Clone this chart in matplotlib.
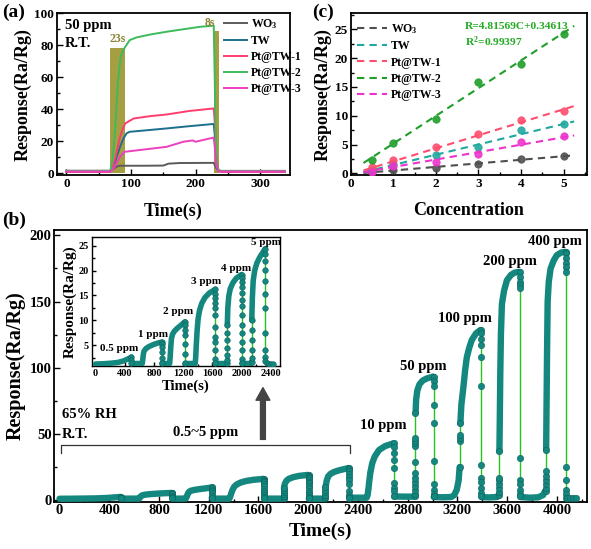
import numpy as np
import matplotlib
matplotlib.use('Agg')
import matplotlib.pyplot as plt
from matplotlib.ticker import MultipleLocator
from matplotlib.patches import Rectangle, FancyArrowPatch

plt.rcParams['font.family'] = ['Liberation Serif', 'DejaVu Serif']
plt.rcParams['font.weight'] = 'bold'
plt.rcParams['axes.labelweight'] = 'bold'
plt.rcParams['mathtext.fontset'] = 'custom'
plt.rcParams['mathtext.rm'] = 'Liberation Serif:bold'
plt.rcParams['mathtext.bf'] = 'Liberation Serif:bold'
plt.rcParams['mathtext.it'] = 'Liberation Serif:bold:italic'
plt.rcParams['mathtext.default'] = 'bf'

# ---------------- (a) dynamic response at 50 ppm ----------------
a_names = ['WO$_3$', 'TW', 'Pt@TW-1', 'Pt@TW-2', 'Pt@TW-3']
a_colors = ['#5b5b5b', '#1c6f8e', '#ff3d6e', '#3dbb5c', '#ee3fbf']
a_wo3_t = [0, 68, 72, 77, 82, 120, 150, 158, 175, 228, 231, 235, 240, 338]
a_wo3_r = [1.7, 1.7, 2.5, 4.1, 4.8, 4.8, 4.9, 6.1, 6.5, 6.6, 4.0, 1.7, 1.6, 1.6]
a_tw_t = [0, 67, 70, 76, 83, 88, 93, 98, 120, 155, 190, 228, 230, 232, 235, 240, 338]
a_tw_r = [1.0, 1.0, 2.0, 8.0, 16.6, 21.5, 25.0, 26.0, 26.8, 28.1, 29.5, 30.9, 22.0, 8.0, 1.5, 1.0, 1.0]
a_pt1_t = [0, 67, 70, 76, 83, 88, 91, 104, 130, 155, 190, 228, 230, 232, 235, 240, 338]
a_pt1_r = [1.0, 1.0, 2.0, 10.0, 22.9, 28.5, 31.2, 34.3, 35.8, 36.8, 39.0, 40.6, 30.0, 10.0, 1.5, 1.0, 1.0]
a_pt2_t = [0, 67, 69, 72, 75, 78, 80, 84, 88, 91, 98, 109, 130, 155, 180, 207, 228, 229.5, 231, 233, 236, 240, 338]
a_pt2_r = [1.5, 1.5, 3.0, 10.0, 25.0, 45.0, 58.0, 73.0, 77.0, 79.0, 83.3, 85.0, 86.8, 88.5, 90.0, 91.6, 92.3, 60.0, 25.0, 5.0, 2.0, 1.5, 1.5]
a_pt3_t = [0, 68, 72, 78, 83, 90, 113, 155, 181, 195, 200, 228, 230, 232, 235, 240, 338]
a_pt3_r = [1.2, 1.2, 2.5, 6.5, 10.4, 13.5, 14.6, 16.6, 19.8, 20.6, 19.8, 22.4, 15.0, 5.0, 1.5, 1.2, 1.2]
a_windows_x = [67.5, 228.5]
a_windows_w = [23.2, 8.0]
a_windows_h = [78.5, 89.0]
a_window_labels = ['23s', '8s']

# ---------------- (c) linear fit ----------------
c_names = ['WO$_3$', 'TW', 'Pt@TW-1', 'Pt@TW-2', 'Pt@TW-3']
c_colors = ['#4f4f4f', '#22a89f', '#ff4d6d', '#1f9e2a', '#ee33cc']
c_conc = [0.5, 1, 2, 3, 4, 5]
c_wo3 = [0.15, 0.6, 1.0, 1.6, 2.4, 3.0]
c_tw = [0.6, 1.6, 3.2, 4.6, 7.5, 8.6]
c_pt1 = [1.04, 2.3, 4.5, 6.9, 9.3, 10.9]
c_pt2 = [2.3, 5.3, 9.4, 15.9, 19.0, 24.2]
c_pt3 = [0.3, 1.2, 2.0, 3.4, 5.4, 6.4]
c_fit_slope = [0.62, 1.78, 2.26, 4.81569, 1.29]
c_fit_int = [-0.13, -0.33, -0.18, 0.34613, -0.19]
c_fit_range = [0.3, 5.25]

# ---------------- (b) continuous sensing trace ----------------
band_t = [
    [0, 100, 200, 300, 380, 440, 480, 490],
    [495, 640, 648, 655, 665, 690, 730, 790, 850, 905],
    [910, 1015, 1022, 1030, 1040, 1055, 1080, 1120, 1170, 1225],
    [1230, 1365, 1372, 1380, 1392, 1405, 1425, 1455, 1500, 1560, 1640],
    [1645, 1795, 1800],
    [1805, 1812, 1825, 1845, 1880, 1930, 2000],
    [2005, 2132, 2136],
    [2140, 2148, 2160, 2180, 2210, 2250, 2290, 2325],
    [2330, 2470, 2478, 2485, 2492, 2500, 2515, 2535, 2570, 2620, 2685],
    [2692, 2760, 2850, 2858],
    [2864, 2868, 2878, 2895, 2920, 2955, 3005],
    [3010, 3080, 3150, 3175, 3195, 3210, 3218],
    [3224, 3232, 3249, 3262, 3276, 3295, 3316, 3350, 3385],
    [3395, 3450, 3520, 3530],
    [3538, 3541, 3545, 3550, 3558, 3575, 3598, 3630, 3660, 3700],
    [3708, 3780, 3850, 3890, 3905],
    [3914, 3917, 3921, 3926, 3935, 3950, 3975, 4000, 4035, 4068],
]
band_r = [
    [1.2, 1.25, 1.35, 1.5, 1.8, 2.2, 2.5, 2.6],
    [1.3, 1.3, 2.2, 3.2, 3.8, 4.3, 4.7, 5.1, 5.4, 5.6],
    [1.3, 1.3, 2.5, 4.5, 6.3, 7.2, 7.8, 8.4, 9.0, 9.7],
    [1.3, 1.3, 2.5, 5.0, 8.0, 10.3, 12.0, 13.4, 14.6, 15.5, 16.2],
    [1.3, 1.3, 1.5],
    [9.0, 12.5, 14.8, 16.3, 17.5, 18.5, 19.2],
    [1.3, 1.3, 1.6],
    [10.0, 14.5, 18.0, 20.0, 21.5, 22.7, 23.6, 24.4],
    [2.0, 2.0, 4.0, 9.0, 15.0, 21.0, 28.0, 33.0, 38.0, 41.0, 43.0],
    [3.0, 2.8, 2.8, 3.5],
    [66.0, 76.0, 83.0, 87.5, 90.3, 92.0, 93.4],
    [2.5, 2.3, 2.5, 4.0, 8.0, 15.0, 25.0],
    [58.0, 72.0, 86.0, 98.0, 108.0, 115.0, 121.0, 126.0, 128.5],
    [2.5, 2.2, 2.5, 4.0],
    [37.0, 60.0, 95.0, 125.0, 148.0, 158.0, 166.0, 170.0, 171.8, 172.4],
    [2.5, 2.0, 2.3, 4.0, 7.0],
    [38.0, 70.0, 110.0, 150.0, 165.0, 175.0, 181.0, 185.0, 187.0, 187.5],
]
# vertical runs of sparse samples (fast rises / recoveries)
col_t = [492, 908, 1228, 1643, 1802, 2003, 2138, 2328, 2690, 2862, 3008,
         3222, 3393, 3536, 3705, 3912, 4072]
col_r = [
    [2.6, 2.0, 1.4],
    [5.6, 5.2, 4.6, 3.6, 2.5, 1.4],
    [9.7, 9.1, 8.0, 7.0, 5.3, 3.3, 1.4],
    [16.2, 15.2, 14.5, 13.5, 12.5, 11.1, 8.7, 6.7, 5.7, 4.0, 2.3, 1.4],
    [1.5, 2.0, 3.0, 4.5, 6.0, 7.5, 9.0],
    [19.2, 18.6, 17.6, 16.6, 15.5, 14.1, 12.8, 11.1, 9.1, 7.4, 5.7, 4.0, 2.3, 1.4],
    [1.6, 2.5, 4.0, 6.0, 8.0, 10.0],
    [24.4, 23.3, 21.9, 20.2, 17.9, 15.2, 12.5, 7.4, 4.0, 2.6, 1.8],
    [43.0, 40.0, 36.0, 30.7, 24.4, 13.0, 9.3, 6.8, 3.5],
    [3.5, 5.0, 8.0, 11.0, 14.0, 17.0, 21.0, 29.0, 41.0, 43.0, 45.0, 47.0, 66.0],
    [93.4, 90.0, 86.0, 72.0, 58.5, 29.4, 12.0, 8.0, 5.0, 3.0],
    [25.0, 45.0, 47.0, 49.0, 58.0],
    [128.5, 126.0, 122.0, 117.0, 108.0, 86.0, 27.0, 17.0, 14.0, 9.5, 5.5, 3.0],
    [4.0, 6.0, 9.0, 12.0, 15.0, 17.0, 37.0],
    [172.4, 168.7, 165.0, 162.4, 160.0, 32.0, 15.6, 12.0, 8.0, 5.0, 3.0],
    [7.0, 9.0, 12.0, 15.0, 18.0, 22.0, 38.0],
    [187.5, 186.3, 182.5, 178.8, 176.2, 172.4, 25.0, 15.6, 8.0, 4.5, 2.0],
]
tail_t = [4085, 4105, 4130, 4155]
tail_r = [1.8, 1.6, 1.5, 1.5]
# the inset shows the low-concentration part only (up to this time)
inset_end = 2440
inset_tail_t = [2345, 2375, 2405, 2435]
inset_tail_r = [1.4, 1.3, 1.3, 1.3]
b_labels = ['10 ppm', '50 ppm', '100 ppm', '200 ppm', '400 ppm']
b_label_t = [2608, 2927, 3262, 3624, 3986]
b_label_r = [56.7, 101, 137, 180.5, 195]
in_labels = ['0.5 ppm', '1 ppm', '2 ppm', '3 ppm', '4 ppm', '5 ppm']
in_label_t = [330, 790, 1130, 1520, 1930, 2340]
in_label_r = [4.3, 7.1, 11.8, 17.8, 20.4, 25.6]

TEAL = '#14877f'
TEAL_D = '#0b635d'
GLINE = '#22c322'

fig = plt.figure(figsize=(5.91, 5.49), dpi=100)
axa = fig.add_axes([0.0959, 0.6812, 0.3948, 0.2945])
axc = fig.add_axes([0.5934, 0.6812, 0.3998, 0.2945])
axb = fig.add_axes([0.0919, 0.0862, 0.9008, 0.4949])
axi = fig.add_axes([0.1552, 0.3333, 0.3186, 0.2355])


def style(ax, fs, lw=1.3):
    for s in ax.spines.values():
        s.set_linewidth(lw)
    ax.tick_params(which='both', direction='in', labelsize=fs, width=1.0, pad=2)
    ax.tick_params(which='major', length=4)
    ax.tick_params(which='minor', length=2.3)
    for lab in ax.get_xticklabels() + ax.get_yticklabels():
        lab.set_fontweight('bold')


# ---- panel (a)
for i in range(2):
    axa.add_patch(Rectangle((a_windows_x[i], 0), a_windows_w[i], a_windows_h[i],
                            facecolor='#a59f42', edgecolor='none', zorder=1))
a_t = [a_wo3_t, a_tw_t, a_pt1_t, a_pt2_t, a_pt3_t]
a_r = [a_wo3_r, a_tw_r, a_pt1_r, a_pt2_r, a_pt3_r]
for k in range(5):
    axa.plot(a_t[k], a_r[k], color=a_colors[k], lw=1.4, label=a_names[k], zorder=3)
axa.text(a_windows_x[0] + a_windows_w[0] / 2, a_windows_h[0] + 1.5, a_window_labels[0],
         color='#8a8535', fontsize=8.5, fontweight='bold', ha='center', va='bottom')
axa.text(a_windows_x[1] + a_windows_w[1] / 2 - 10, a_windows_h[1] + 1.0, a_window_labels[1],
         color='#8a8535', fontsize=8.5, fontweight='bold', ha='center', va='bottom')
axa.text(-2, 92.7, '50 ppm', fontsize=10.5, fontweight='bold', va='center')
axa.text(-2, 81, 'R.T.', fontsize=10.5, fontweight='bold', va='center')
axa.set_xlim(-15, 346)
axa.set_ylim(-1, 100)
axa.xaxis.set_major_locator(MultipleLocator(100))
axa.xaxis.set_minor_locator(MultipleLocator(50))
axa.yaxis.set_major_locator(MultipleLocator(20))
axa.yaxis.set_minor_locator(MultipleLocator(10))
style(axa, 9.5)
axa.set_xlabel('Time(s)', fontsize=13, labelpad=9)
axa.set_ylabel('Response(Ra/Rg)', fontsize=13, labelpad=2)
axa.legend(loc='upper left', bbox_to_anchor=(0.70, 1.0), frameon=False,
           handlelength=2.0, handletextpad=0.3, labelspacing=0.35, borderaxespad=0.1,
           borderpad=0.2, prop={'weight': 'bold', 'size': 8.5})

# ---- panel (c)
c_data = [c_wo3, c_tw, c_pt1, c_pt2, c_pt3]
xf = np.array(c_fit_range)
for k in range(5):
    axc.plot(xf, c_fit_slope[k] * xf + c_fit_int[k], ls=(0, (3.5, 2.5)), lw=1.5,
             color=c_colors[k], label=c_names[k], zorder=2)
    axc.plot(c_conc, c_data[k], 'o', ms=5.3, mfc=c_colors[k], mec=c_colors[k], mew=0.6,
             alpha=0.9, zorder=3)
axc.text(2.69, 25.5, 'R=4.81569C+0.34613', color='#22aa22', fontsize=8.2,
         fontweight='bold', va='center')
axc.text(2.69, 22.8, 'R$^2$=0.99397', color='#22aa22', fontsize=8.2,
         fontweight='bold', va='center')
axc.set_xlim(0, 5.55)
axc.set_ylim(-0.3, 27.8)
axc.xaxis.set_major_locator(MultipleLocator(1))
axc.xaxis.set_minor_locator(MultipleLocator(0.5))
axc.yaxis.set_major_locator(MultipleLocator(5))
axc.yaxis.set_minor_locator(MultipleLocator(2.5))
style(axc, 9.5)
axc.set_xlabel('Concentration', fontsize=13, labelpad=9)
axc.set_ylabel('Response(Ra/Rg)', fontsize=13, labelpad=2)
axc.legend(loc='upper left', bbox_to_anchor=(0.01, 0.965), frameon=False,
           handlelength=2.6, handletextpad=0.3, labelspacing=0.35, borderaxespad=0.1,
           borderpad=0.2, prop={'weight': 'bold', 'size': 8.5})


# ---- panel (b) and inset
def draw_trace(ax, ms, lw_band, t_max=None):
    for t, r in zip(band_t, band_r):
        if t_max is not None and t[-1] > t_max:
            continue
        ax.plot(t, r, color=TEAL, lw=lw_band, solid_capstyle='round',
                solid_joinstyle='round', zorder=3)
    for t, r in zip(col_t, col_r):
        if t_max is not None and t > t_max:
            continue
        tt = [t] * len(r)
        ax.plot(tt, r, color=GLINE, lw=1.0, zorder=2)
        ax.plot(tt, r, 'o', ms=ms, mfc=TEAL, mec=TEAL_D, mew=0.4, zorder=4)


draw_trace(axb, 4.6, 4.6)
axb.plot(tail_t, tail_r, 'o', ms=4.6, mfc=TEAL, mec=TEAL_D, mew=0.4, zorder=4)
axb.set_xlim(-42, 4240)
axb.set_ylim(-1, 204)
axb.xaxis.set_major_locator(MultipleLocator(400))
axb.xaxis.set_minor_locator(MultipleLocator(200))
axb.yaxis.set_major_locator(MultipleLocator(50))
axb.yaxis.set_minor_locator(MultipleLocator(25))
style(axb, 10.5)
axb.set_xlabel('Time(s)', fontsize=14, labelpad=4)
axb.set_ylabel('Response(Ra/Rg)', fontsize=14.5, labelpad=3)
for s, t, r in zip(b_labels, b_label_t, b_label_r):
    axb.text(t, r, s, fontsize=10.5, fontweight='bold', ha='center', va='center')
axb.text(20, 65, '65% RH', fontsize=10.5, fontweight='bold', va='center')
axb.text(20, 50, 'R.T.', fontsize=10.5, fontweight='bold', va='center')
axb.text(1178, 51, '0.5~5 ppm', fontsize=10.5, fontweight='bold', ha='center', va='center')
axb.plot([10, 10, 2337, 2337], [36, 42, 42, 36], color='#333333', lw=0.9)
axb.add_patch(FancyArrowPatch((1636, 46), (1636, 85),
                              arrowstyle='simple,head_width=1.0,head_length=0.9,tail_width=0.35',
                              mutation_scale=10, color='#444444', shrinkA=0, shrinkB=0))

draw_trace(axi, 4.0, 4.0, t_max=inset_end)
axi.plot(inset_tail_t, inset_tail_r, 'o', ms=4.0, mfc=TEAL, mec=TEAL_D, mew=0.4, zorder=4)
axi.set_xlim(-52, 2527)
axi.set_ylim(0.8, 26.8)
axi.xaxis.set_major_locator(MultipleLocator(400))
axi.xaxis.set_minor_locator(MultipleLocator(200))
axi.yaxis.set_major_locator(MultipleLocator(5))
axi.yaxis.set_minor_locator(MultipleLocator(2.5))
style(axi, 7.5, lw=1.0)
axi.tick_params(which='major', length=3)
axi.tick_params(which='minor', length=1.8)
axi.set_xlabel('Time(s)', fontsize=10.5, labelpad=1)
axi.set_ylabel('Response(Ra/Rg)', fontsize=11, labelpad=1)
for s, t, r in zip(in_labels, in_label_t, in_label_r):
    axi.text(t, r, s, fontsize=8, fontweight='bold', ha='center', va='center')

fig.text(0.004, 0.978, '(a)', fontsize=14, fontweight='bold', va='center')
fig.text(0.528, 0.978, '(c)', fontsize=14, fontweight='bold', va='center')
fig.text(0.004, 0.598, '(b)', fontsize=14, fontweight='bold', va='center')

fig.savefig('out.png', dpi=100)
